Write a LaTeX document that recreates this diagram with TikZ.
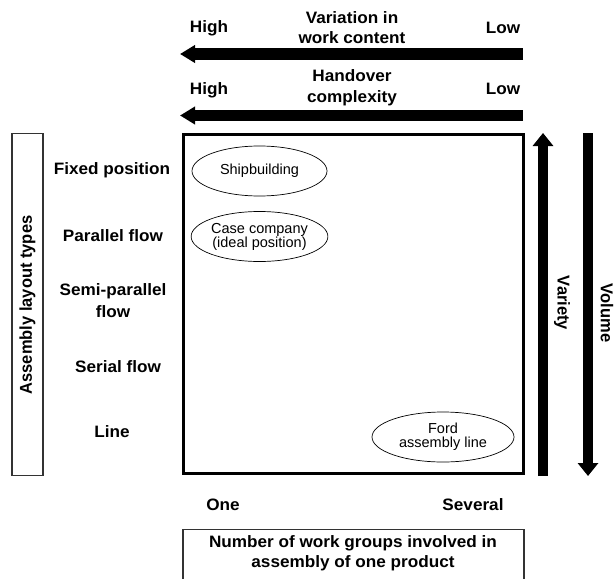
\documentclass[tikz,border=0pt]{standalone}
\usepackage{fontspec}
\setmainfont{Liberation Sans}
\usetikzlibrary{arrows.meta,shapes.geometric}
\begin{document}
\begin{tikzpicture}[x=1pt,y=-1pt,
  lbl/.style={font=\fontsize{16.5}{19}\selectfont\bfseries, align=center, inner sep=0pt, xscale=1.04},
  ell/.style={draw, ellipse, line width=0.7pt, minimum width=135pt, minimum height=50pt, inner sep=0pt, align=center, font=\fontsize{14.5}{16}\selectfont},
  harrow/.style={line width=11.5pt, -{Triangle[length=15pt,width=17pt]}},
  varrow/.style={line width=10pt, -{Triangle[length=13pt,width=20pt]}},
  thinbox/.style={draw=black!80, line width=1.2pt}]
\useasboundingbox (0,0) rectangle (615,578);
\clip (0,0) rectangle (615,578);
% top arrows
\coordinate (a1s) at (523,54);
\coordinate (a1e) at (180,54);
\draw[harrow] (a1s) -- (a1e);
\node[lbl] (h1) at (209,28) {High};
\node[lbl] (l1) at (503,28) {Low};
\node[lbl, font=\fontsize{16.5}{20}\selectfont\bfseries] (v1) at (352,28) {Variation in\\work content};
\coordinate (a2s) at (523,115.5);
\coordinate (a2e) at (180,115.5);
\draw[harrow] (a2s) -- (a2e);
\node[lbl] (h2) at (209,90) {High};
\node[lbl] (l2) at (503,89) {Low};
\node[lbl, font=\fontsize{16.5}{21}\selectfont\bfseries] (v2) at (352,88) {Handover\\complexity};
% main box
\node[draw, line width=3pt, minimum width=340pt, minimum height=339pt, inner sep=0pt] (main) at (353,303.5) {};
\node[ell] (ship) at (259.5,171) {Shipbuilding};
\node[ell] (case) at (259.5,236.5) {Case company\\[-2pt](ideal position)};
\node[ell, minimum width=142pt] (ford) at (443,437) {Ford\\[-2pt]assembly line};
% left box
\node[thinbox, minimum width=31pt, minimum height=342pt, inner sep=0pt] (lbox) at (27.5,304.5) {};
\node[lbl, rotate=90] (alt) at (27.5,305) {Assembly layout types};
\node[lbl] (fp) at (112,170) {Fixed position};
\node[lbl] (pf) at (113,236) {Parallel flow};
\node[lbl, font=\fontsize{16.5}{22}\selectfont\bfseries] (sp) at (113,301) {Semi-parallel\\flow};
\node[lbl] (sf) at (118,367) {Serial flow};
\node[lbl] (ln) at (112,432) {Line};
% right arrows
\coordinate (vs) at (543,476);
\coordinate (ve) at (543,133);
\draw[varrow] (vs) -- (ve);
\node[lbl, rotate=-90] (var) at (562,303) {Variety};
\coordinate (ws) at (588,133);
\coordinate (we) at (588,476);
\draw[varrow] (ws) -- (we);
\node[lbl, rotate=-90] (vol) at (607,313) {Volume};
% bottom
\node[lbl] (one) at (223,505) {One};
\node[lbl] (sev) at (473,505) {Several};
\node[thinbox, minimum width=341pt, minimum height=60pt, inner sep=0pt, anchor=north] (bbox) at (353.5,529) {};
\node[lbl, font=\fontsize{16.5}{20}\selectfont\bfseries] (nb) at (353,553) {Number of work groups involved in\\assembly of one product};
\end{tikzpicture}
\end{document}
